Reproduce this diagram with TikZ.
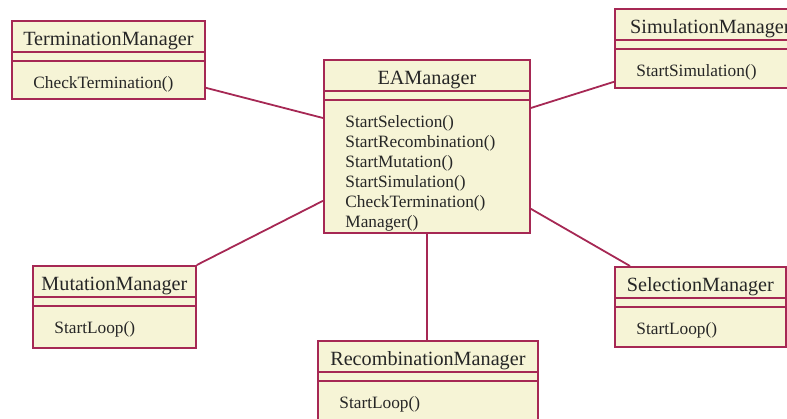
\documentclass[tikz,border=0pt]{standalone}
\usepackage{fontspec}
\setmainfont{Liberation Serif}
\definecolor{umlline}{RGB}{166,40,84}
\definecolor{umlfill}{RGB}{246,244,214}

\begin{document}
\begin{tikzpicture}[x=0.5pt,y=-0.5pt]
    \useasboundingbox (0,0) rectangle (787,418);
    \tikzset{
        classbox/.style={draw=umlline, fill=umlfill, line width=0.9pt, inner sep=0pt, anchor=north west},
        link/.style={draw=umlline, line width=0.9pt},
        titletext/.style={anchor=base, inner sep=0pt, text=black!85, font={\fontsize{10.1pt}{12pt}\selectfont}},
        methodtext/.style={anchor=base west, inner sep=0pt, text=black!85, font={\fontsize{8.65pt}{10pt}\selectfont}}
    }
    \begin{scope}
    % classes:
    \foreach \nm/\x/\y/\w/\h/\ttl/\mth in {
        term/11/20/193/78/TerminationManager/{CheckTermination()},
        ea/323/59/206/173/EAManager/{StartSelection(),StartRecombination(),StartMutation(),StartSimulation(),CheckTermination(),Manager()},
        sim/614/8/191/79/SimulationManager/{StartSimulation()},
        mut/32/265/163/82/MutationManager/{StartLoop()},
        rec/317/340/220/86/RecombinationManager/{StartLoop()},
        sel/614/266/171/80/SelectionManager/{StartLoop()}}{
        \node [classbox, minimum width=\w*0.5pt, minimum height=\h*0.5pt] (\nm) at (\x,\y) {};
        \draw [link] ([yshift=-16pt]\nm.north west) -- ([yshift=-16pt]\nm.north east);
        \draw [link] ([yshift=-20.5pt]\nm.north west) -- ([yshift=-20.5pt]\nm.north east);
        \node [titletext] (\nm-t) at ([yshift=-12.7pt]\nm.north) {\ttl};
        \foreach \m [count=\i] in \mth {
            \node [methodtext] (\nm-m\i) at ([xshift=11pt, yshift=-34pt-(\i-1)*10pt]\nm.north west) {\m};
        }
    }

    % links
    \draw [link] ([yshift=6pt]term.south east) -- ([yshift=-29.5pt]ea.north west);
    \draw [link] ([yshift=-24.5pt]ea.north east) -- ([yshift=3.5pt]sim.south west);
    \draw [link] (mut.north east) -- ([yshift=16.5pt]ea.south west);
    \draw [link] ([xshift=8pt]sel.north west) -- ([yshift=12.5pt]ea.south east);
    \draw [link] (ea.south) -- (ea.south |- rec.north);
    \end{scope}
\end{tikzpicture}
\end{document}
